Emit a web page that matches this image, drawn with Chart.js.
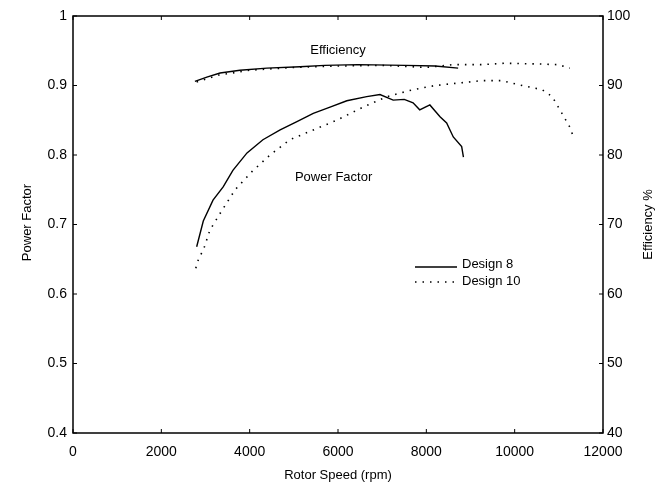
<!DOCTYPE html>
<html>
<head>
<meta charset="utf-8">
<script src="https://cdn.jsdelivr.net/npm/chart.js@4.4.0/dist/chart.umd.min.js"></script>
<style>
  body { margin: 0; background: #fff; }
  canvas { display: block; }
</style>
</head>
<body>
<canvas id="chart" width="655" height="492"></canvas>
<script>
// power factor, design 8 (solid) and design 10 (dotted)
const pf8Speed = [2800, 2950, 3170, 3400, 3620, 3940, 4300, 4690, 5070, 5440, 5820, 6200, 6650, 6950, 7250, 7500, 7700, 7850, 8080, 8310, 8460, 8610, 8800, 8840]
const pf8 = [0.668, 0.705, 0.735, 0.754, 0.778, 0.803, 0.822, 0.836, 0.848, 0.86, 0.869, 0.878, 0.884, 0.887, 0.879, 0.880, 0.875, 0.865, 0.872, 0.855, 0.846, 0.826, 0.812, 0.797]
const pf10Speed = [2780, 2850, 2950, 3100, 3370, 3670, 4050, 4460, 4910, 5440, 5970, 6570, 7110, 7700, 8200, 8650, 9260, 9710, 10170, 10620, 10850, 11070, 11250, 11330]
const pf10 = [0.637, 0.652, 0.663, 0.692, 0.72, 0.75, 0.776, 0.8, 0.822, 0.836, 0.85, 0.869, 0.884, 0.894, 0.9, 0.903, 0.907, 0.907, 0.9, 0.894, 0.884, 0.86, 0.84, 0.826]

// efficiency %, right axis
const eff8Speed = [2760, 3030, 3330, 3780, 4390, 5140, 5700, 6450, 7520, 8200, 8720]
const eff8 = [90.6, 91.2, 91.8, 92.2, 92.5, 92.7, 92.9, 93.0, 92.9, 92.8, 92.5]
const eff10Speed = [2800, 3300, 4000, 5000, 6000, 7000, 8000, 8600, 9260, 9780, 10530, 10980, 11250]
const eff10 = [90.5, 91.5, 92.2, 92.6, 92.8, 92.9, 92.6, 93.0, 93.0, 93.2, 93.1, 93.0, 92.5]

const seriesNames = ['Design 8', 'Design 10']
const xTitle = 'Rotor Speed (rpm)'
const yTitle = 'Power Factor'
const y2Title = 'Efficiency %'

const FONT = '"Liberation Sans", Arial, sans-serif'

function pts(xs, ys) {
  return xs.map((x, i) => ({ x: x, y: ys[i] }))
}

const solid = { borderColor: '#000', borderWidth: 1.4, pointRadius: 0, tension: 0, fill: false }
const dotted = { borderColor: '#000', borderWidth: 1.6, borderDash: [1.5, 6], pointRadius: 0, tension: 0, fill: false }

// box, inward ticks, labels, legend
const decor = {
  id: 'decor',
  afterDraw(chart) {
    const ctx = chart.ctx
    const a = chart.chartArea
    const sx = chart.scales.x, sy = chart.scales.y, sy2 = chart.scales.y2
    ctx.save()
    ctx.strokeStyle = '#000'
    ctx.lineWidth = 1.5
    ctx.strokeRect(a.left, a.top, a.right - a.left, a.bottom - a.top)
    ctx.lineWidth = 1
    ctx.beginPath()
    sx.ticks.forEach(t => {
      const px = sx.getPixelForValue(t.value)
      ctx.moveTo(px, a.bottom); ctx.lineTo(px, a.bottom - 4)
      ctx.moveTo(px, a.top); ctx.lineTo(px, a.top + 4)
    })
    sy.ticks.forEach(t => {
      const py = sy.getPixelForValue(t.value)
      ctx.moveTo(a.left, py); ctx.lineTo(a.left + 4, py)
    })
    sy2.ticks.forEach(t => {
      const py = sy2.getPixelForValue(t.value)
      ctx.moveTo(a.right, py); ctx.lineTo(a.right - 4, py)
    })
    ctx.stroke()

    ctx.fillStyle = '#000'
    ctx.font = '13px ' + FONT
    ctx.textAlign = 'center'
    ctx.textBaseline = 'middle'
    ctx.fillText('Efficiency', sx.getPixelForValue(6000), sy2.getPixelForValue(95.1))
    ctx.fillText('Power Factor', sx.getPixelForValue(5900), sy.getPixelForValue(0.768))

    // axis titles
    ctx.fillText(xTitle, (a.left + a.right) / 2, a.bottom + 42)
    ctx.save()
    ctx.translate(27, (a.top + a.bottom) / 2 - 2)
    ctx.rotate(-Math.PI / 2)
    ctx.fillText(yTitle, 0, 0)
    ctx.restore()
    ctx.save()
    ctx.translate(a.right + 45, (a.top + a.bottom) / 2)
    ctx.rotate(-Math.PI / 2)
    ctx.fillText(y2Title, 0, 0)
    ctx.restore()

    // legend inside plot
    const lx = a.left + 342, ly = a.top + 251
    ctx.textAlign = 'left'
    ctx.beginPath()
    ctx.lineWidth = 1.4
    ctx.moveTo(lx, ly); ctx.lineTo(lx + 42, ly)
    ctx.stroke()
    ctx.beginPath()
    ctx.lineWidth = 1.6
    ctx.setLineDash([1.5, 6])
    ctx.moveTo(lx, ly + 15); ctx.lineTo(lx + 42, ly + 15)
    ctx.stroke()
    ctx.setLineDash([])
    ctx.fillText(seriesNames[0], lx + 47, ly - 3)
    ctx.fillText(seriesNames[1], lx + 47, ly + 14)
    ctx.restore()
  }
}

new Chart(document.getElementById('chart').getContext('2d'), {
  type: 'line',
  data: {
    datasets: [
      Object.assign({ label: seriesNames[0], data: pts(pf8Speed, pf8), yAxisID: 'y' }, solid),
      Object.assign({ label: seriesNames[1], data: pts(pf10Speed, pf10), yAxisID: 'y' }, dotted),
      Object.assign({ label: seriesNames[0], data: pts(eff8Speed, eff8), yAxisID: 'y2' }, solid),
      Object.assign({ label: seriesNames[1], data: pts(eff10Speed, eff10), yAxisID: 'y2' }, dotted),
    ]
  },
  options: {
    responsive: false,
    animation: false,
    layout: { padding: { top: 16, left: 0, right: 0, bottom: 0 } },
    plugins: { legend: { display: false }, tooltip: { enabled: false } },
    scales: {
      x: {
        type: 'linear', min: 0, max: 12000,
        grid: { display: false, drawTicks: false },
        border: { display: false },
        ticks: { stepSize: 2000, color: '#000', padding: 11, font: { size: 14, family: FONT }, maxRotation: 0,
          callback: v => String(v) },
        afterFit(s) { s.height = 59 }
      },
      y: {
        type: 'linear', position: 'left', min: 0.4, max: 1,
        grid: { display: false, drawTicks: false },
        border: { display: false },
        ticks: { stepSize: 0.1, color: '#000', padding: 6, font: { size: 14, family: FONT },
          callback: v => String(Number(v.toFixed(1))) },
        afterFit(s) { s.width = 73 }
      },
      y2: {
        type: 'linear', position: 'right', min: 40, max: 100,
        grid: { display: false, drawTicks: false },
        border: { display: false },
        ticks: { stepSize: 10, color: '#000', padding: 4, font: { size: 14, family: FONT } },
        afterFit(s) { s.width = 52 }
      }
    }
  },
  plugins: [decor]
})
</script>
</body>
</html>
